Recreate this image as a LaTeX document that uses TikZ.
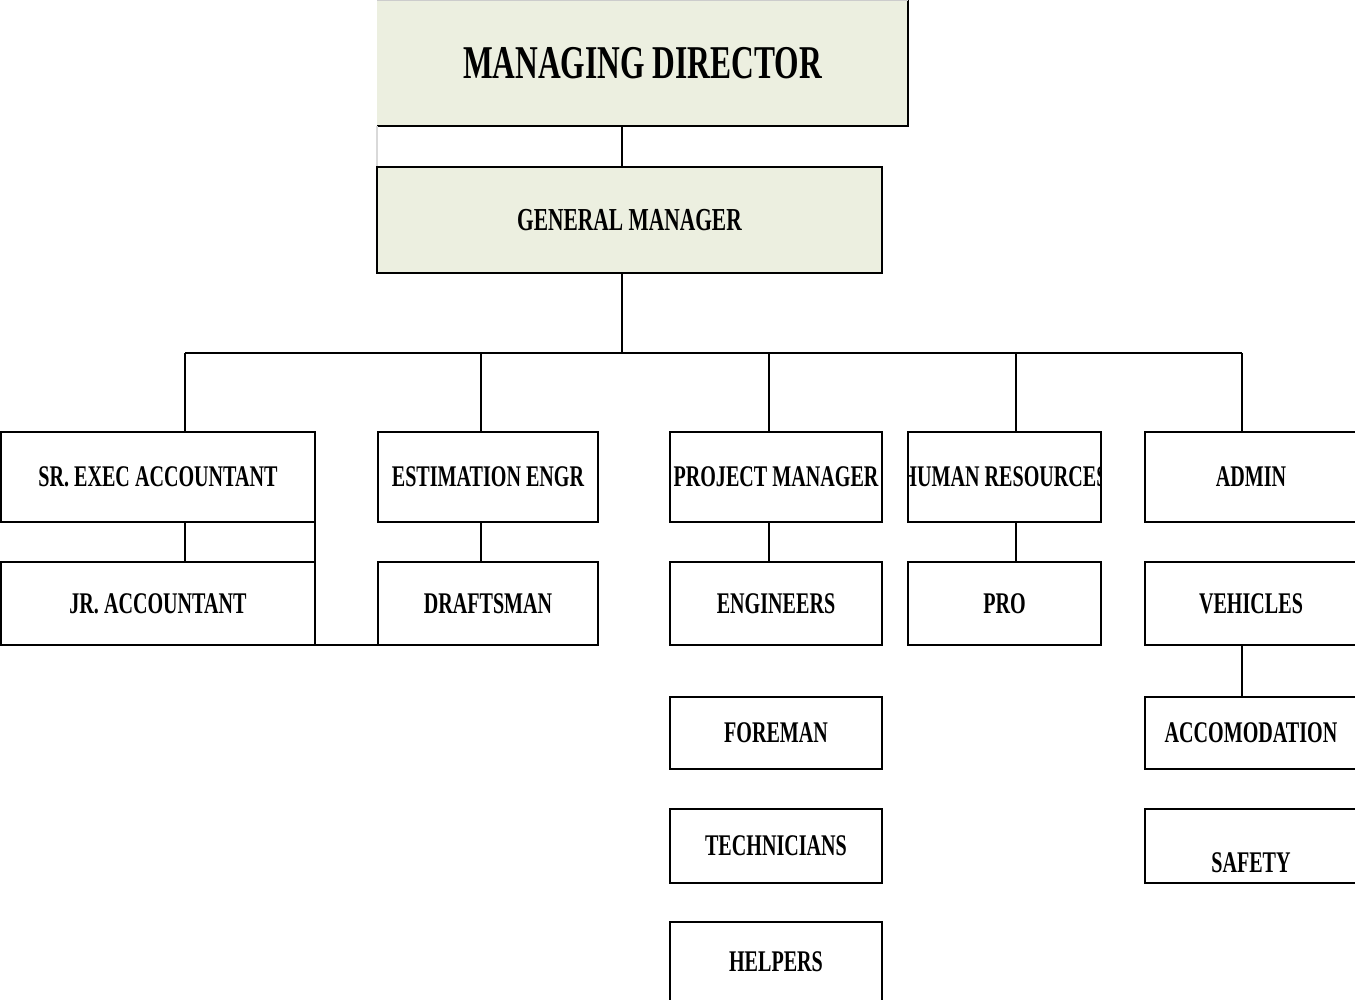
\documentclass[tikz,border=0pt]{standalone}
\usepackage{fontspec}
\newfontfamily\cond[FakeStretch=0.67]{Liberation Serif}
\newcommand\lblfont{\cond\bfseries\fontsize{30}{36}\selectfont}
\newcommand\gmfont{\cond\bfseries\fontsize{32}{38}\selectfont}
\newcommand\mdfont{\cond\bfseries\fontsize{47}{56}\selectfont}
\definecolor{boxgreen}{RGB}{236,239,224}
\begin{document}
\begin{tikzpicture}[x=1pt,y=-1pt,
  box/.style={draw, line width=2pt, rectangle, inner sep=0pt, outer sep=0pt, anchor=north west, font=\lblfont},
  conn/.style={line width=2pt},
  txt/.style={inner sep=0pt, font=\lblfont}]
\useasboundingbox (0,0) rectangle (1355,1000);

% Managing director (no left border)
\node[rectangle, fill=boxgreen, inner sep=0pt, outer sep=0pt, anchor=north west, minimum width=531pt, minimum height=126pt, font=\mdfont] (md) at (377,0) {MANAGING DIRECTOR};
\draw[line width=2pt] (md.north east) -- (md.south east) -- (md.south west);
\draw[gray!40, line width=1pt] ([yshift=-0.5pt]md.north west) -- ([yshift=-0.5pt]md.north east);
\draw[gray!30, line width=1.2pt] (md.south west) -- ++(0,41);

% General manager
\node[box, fill=boxgreen, minimum width=505pt, minimum height=106pt, font=\gmfont] (gm) at (377,167) {GENERAL MANAGER};

% Row 1
\node[box, minimum width=314pt, minimum height=90pt] (sr) at (1,432) {SR. EXEC ACCOUNTANT};
\node[box, minimum width=220pt, minimum height=90pt] (est) at (378,432) {ESTIMATION ENGR};
\node[box, minimum width=212pt, minimum height=90pt] (pm) at (670,432) {PROJECT MANAGER};
\node[box, minimum width=193pt, minimum height=90pt] (hr) at (908,432) {};
\node[box, minimum width=212pt, minimum height=90pt] (adm) at (1145,432) {ADMIN};

\begin{scope}
  \clip (hr.south west) rectangle (hr.north east);
  \node[txt] (hrt) at (hr.center) {HUMAN RESOURCES};
\end{scope}

% Row 2
\node[box, minimum width=314pt, minimum height=83pt] (jr) at (1,562) {JR. ACCOUNTANT};
\node[box, minimum width=220pt, minimum height=83pt] (dr) at (378,562) {DRAFTSMAN};
\node[box, minimum width=212pt, minimum height=83pt] (eng) at (670,562) {ENGINEERS};
\node[box, minimum width=193pt, minimum height=83pt] (pro) at (908,562) {PRO};
\node[box, minimum width=212pt, minimum height=83pt] (veh) at (1145,562) {VEHICLES};

% Row 3-5
\node[box, minimum width=212pt, minimum height=72pt] (fore) at (670,697) {FOREMAN};
\node[box, minimum width=212pt, minimum height=72pt] (acc) at (1145,697) {ACCOMODATION};
\node[box, minimum width=212pt, minimum height=74pt] (tech) at (670,809) {TECHNICIANS};
\node[box, minimum width=212pt, minimum height=74pt] (saf) at (1145,809) {};
\node[txt] (saft) at ([yshift=-17pt]saf.center) {SAFETY};
\node[box, minimum width=212pt, minimum height=79pt] (help) at (670,922) {HELPERS};

% Connectors
\coordinate (c0) at (622,353);
\coordinate (d1) at (185,353);
\coordinate (d2) at (481,353);
\coordinate (d3) at (769,353);
\coordinate (d4) at (1016,353);
\coordinate (d5) at (1242,353);

\draw[conn] (c0 |- md.south) -- (c0 |- gm.north);
\draw[conn] (c0 |- gm.south) -- (c0);
\draw[conn] (d1) -- (d5);
\foreach \d/\b in {d1/sr, d2/est, d3/pm, d4/hr, d5/adm}
  \draw[conn] (\d) -- (\d |- \b.north);
\foreach \d/\a/\b in {d1/sr/jr, d2/est/dr, d3/pm/eng, d4/hr/pro, d5/veh/acc}
  \draw[conn] (\d |- \a.south) -- (\d |- \b.north);
\draw[conn] (sr.south east) -- (jr.north east);
\draw[conn] (jr.south east) -- (dr.south west);
\end{tikzpicture}
\end{document}
